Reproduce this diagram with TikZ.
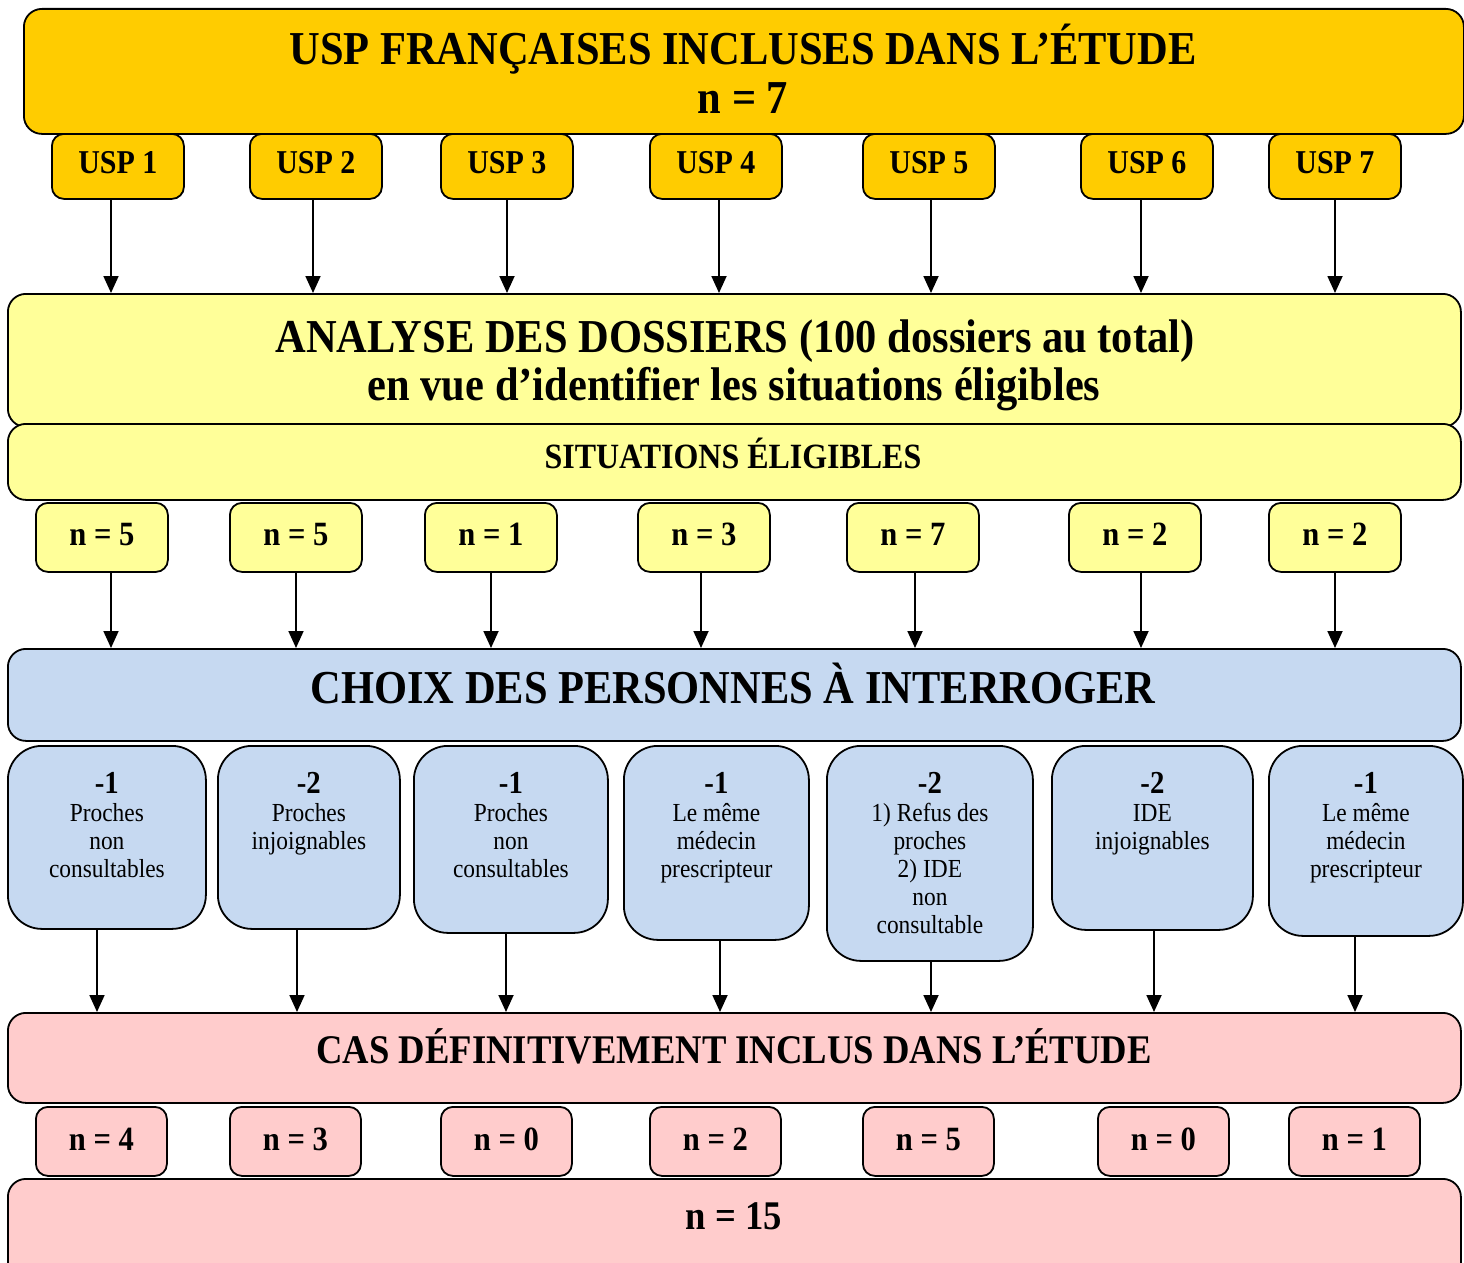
\documentclass[tikz,border=0pt]{standalone}
\usepackage{fontspec}
\setmainfont{Liberation Serif}[FakeStretch=0.9]
\usetikzlibrary{arrows.meta}
\definecolor{cOr}{HTML}{FFCC00}
\definecolor{cYe}{HTML}{FFFF99}
\definecolor{cBl}{HTML}{C6D9F1}
\definecolor{cPi}{HTML}{FFCCCC}
\begin{document}
\begin{tikzpicture}[x=1pt,y=-1pt,
  bx/.style={draw=black, line width=1.8pt, inner sep=0pt, anchor=north west},
  big/.style={rounded corners=18pt},
  small/.style={rounded corners=12pt, minimum height=69pt, minimum width=132pt},
  blu/.style={bx, fill=cBl, rounded corners=34pt},
  txt/.style={anchor=base, inner sep=0pt, align=center},
  arr/.style={-{Triangle[length=17pt,width=15pt]}, line width=1.8pt}]
\useasboundingbox (0,0) rectangle (1464,1263);
% ---- top orange
\node[bx, big, fill=cOr, minimum width=1440pt, minimum height=125pt] (top) at (23,8) {};
\foreach \i/\x in {1/51,2/249,3/440,4/649,5/862,6/1080,7/1268}{
  \node[bx, fill=cOr, rounded corners=12pt, minimum width=132pt, minimum height=65pt] (u\i) at (\x,133) {};
  \node[txt, font=\bfseries\fontsize{33.3}{36}\selectfont] at ([yshift=-40pt]u\i.north) {USP \i};
}
\node[txt, font=\bfseries\fontsize{47.2}{48}\selectfont] (ttl) at (743,65) {USP FRANÇAISES INCLUSES DANS L’ÉTUDE};
\node[txt, font=\bfseries\fontsize{47.2}{48}\selectfont] (tn) at (743,113) {n = 7};
% ---- yellow
\node[bx, big, fill=cYe, minimum width=1453pt, minimum height=133pt] (ana) at (7,293) {};
\node[bx, big, fill=cYe, minimum width=1453pt, minimum height=76pt] (sit) at (7,423) {};
\node[txt, font=\bfseries\fontsize{47.2}{48}\selectfont] at (735,352) {ANALYSE DES DOSSIERS (100 dossiers au total)};
\node[txt, font=\bfseries\fontsize{47.2}{48}\selectfont] at (734,400) {en vue d’identifier les situations éligibles};
\node[txt, font=\bfseries\fontsize{35.5}{36}\selectfont] at (733,468) {SITUATIONS ÉLIGIBLES};
\foreach \i/\x/\n in {1/35/5,2/229/5,3/424/1,4/637/3,5/846/7,6/1068/2,7/1268/2}{
  \node[bx, small, fill=cYe] (y\i) at (\x,502) {};
  \node[txt, font=\bfseries\fontsize{34}{36}\selectfont] at ([yshift=-43pt]y\i.north) {n = \n};
}
% ---- blue
\node[bx, big, fill=cBl, minimum width=1453pt, minimum height=92pt] (cho) at (7,648) {};
\node[txt, font=\bfseries\fontsize{47.2}{48}\selectfont] at (733,703) {CHOIX DES PERSONNES À INTERROGER};
\foreach \i/\l/\r/\b/\m/\t in {
  1/7/205/928/-1/{Proches\\non\\consultables},
  2/217/399/928/-2/{Proches\\injoignables},
  3/413/607/932/-1/{Proches\\non\\consultables},
  4/623/808/939/-1/{Le même\\médecin\\prescripteur},
  5/826/1032/960/-2/{1) Refus des\\proches\\2) IDE\\non\\consultable},
  6/1051/1252/929/-2/{IDE\\injoignables},
  7/1268/1462/935/-1/{Le même\\médecin\\prescripteur}}{
  \pgfmathsetmacro\w{\r-\l}\pgfmathsetmacro\h{\b-745}
  \node[blu, minimum width=\w pt, minimum height=\h pt] (b\i) at (\l,745) {};
  \node[txt, font=\bfseries\fontsize{32}{34}\selectfont] at ([yshift=-48pt]b\i.north) {\m};
  \node[txt, font=\fontsize{26}{28}\selectfont] at ([yshift=-76pt]b\i.north) {\begin{tabular}[t]{@{}c@{}}\t\end{tabular}};
}
% ---- pink
\node[bx, big, fill=cPi, minimum width=1453pt, minimum height=90pt] (cas) at (7,1012) {};
\node[txt, font=\bfseries\fontsize{40.7}{42}\selectfont] at (734,1063) {CAS DÉFINITIVEMENT INCLUS DANS L’ÉTUDE};
\foreach \i/\x/\n in {1/35/4,2/229/3,3/440/0,4/649/2,5/862/5,6/1097/0,7/1288/1}{
  \node[bx, rounded corners=12pt, minimum width=131pt, minimum height=69pt, fill=cPi] (p\i) at (\x,1106) {};
  \node[txt, font=\bfseries\fontsize{34}{36}\selectfont] at ([yshift=-44pt]p\i.north) {n = \n};
}
\node[bx, big, fill=cPi, minimum width=1453pt, minimum height=110pt] (tot) at (7,1178) {};
\node[txt, font=\bfseries\fontsize{40.7}{42}\selectfont] at (734,1229) {n = 15};
% ---- arrows
\foreach \i/\x in {1/111,2/313,3/507,4/719,5/931,6/1141,7/1335}{
  \coordinate (ka\i) at (\x,0);
  \draw[arr] (u\i.south -| ka\i) -- (ana.north -| ka\i);
}
\foreach \i/\x in {1/111,2/296,3/491,4/701,5/915,6/1141,7/1335}{
  \coordinate (kb\i) at (\x,0);
  \draw[arr] (y\i.south -| kb\i) -- (cho.north -| kb\i);
}
\foreach \i/\x in {1/97,2/297,3/506,4/720,5/931,6/1154,7/1355}{
  \coordinate (kc\i) at (\x,0);
  \draw[arr] (b\i.south -| kc\i) -- (cas.north -| kc\i);
}
\end{tikzpicture}
\end{document}
